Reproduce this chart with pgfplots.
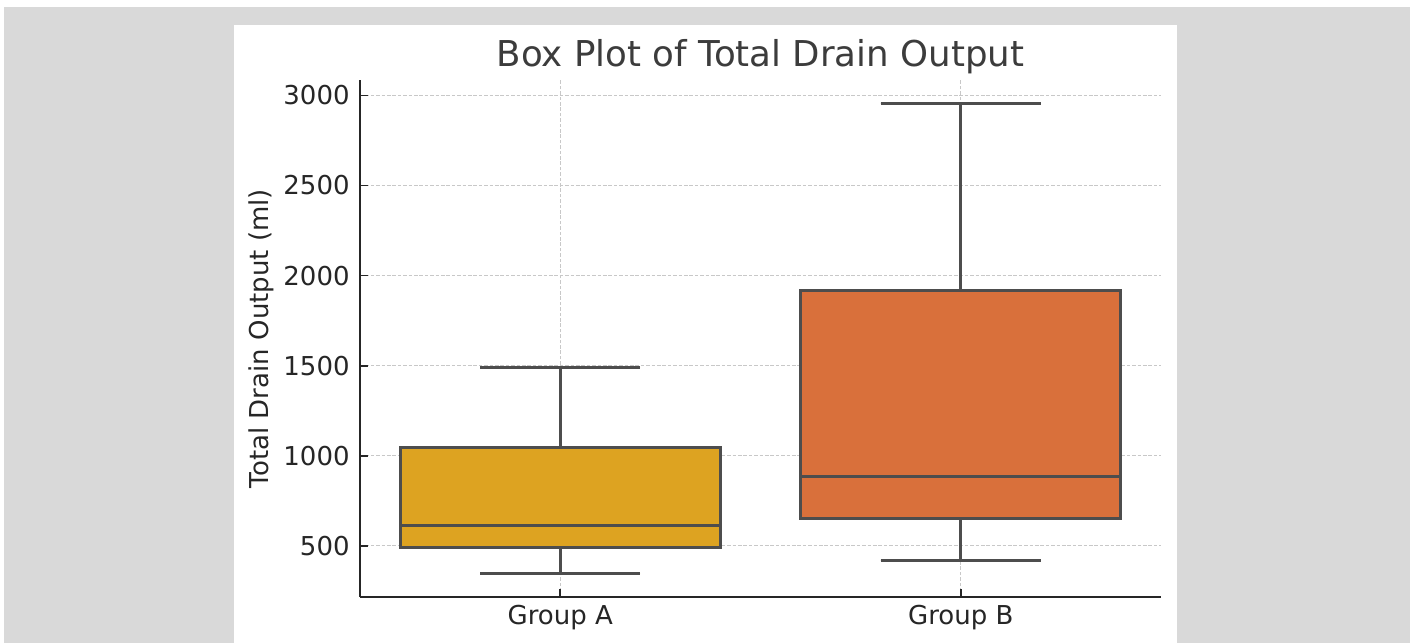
\documentclass[border=0pt]{standalone}
\usepackage{fontspec}
\setmainfont{DejaVu Sans}
\usepackage{pgfplots}
\pgfplotsset{compat=1.18}
\usepgfplotslibrary{statistics}
\definecolor{bgray}{HTML}{D9D9D9}
\definecolor{cA}{HTML}{DDA321}
\definecolor{cB}{HTML}{D9703B}
\definecolor{lineC}{HTML}{4D4D4D}
\definecolor{txt}{HTML}{262626}
\definecolor{gridC}{HTML}{C8C8C8}
\pgfplotsset{
  layers/mylayers/.define layer set={axis background,main,boxfill,axis grid,axis ticks,axis lines,boxlines,axis tick labels,axis descriptions,axis foreground}{},
}
\begin{document}
\begin{tikzpicture}
\fill[white] (-180pt,-23pt) rectangle (525pt,298.5pt);
\fill[bgray] (-178pt,-23pt) rectangle (525pt,295pt);
\fill[white] (-63pt,-23pt) rectangle (408.5pt,286pt);
\begin{axis}[
  set layers=mylayers,
  scale only axis,
  width=400.5pt, height=258.5pt,
  xmin=-0.5, xmax=1.5,
  ymin=217, ymax=3085,
  axis x line*=bottom, axis y line*=left,
  axis line style={color=txt, line width=1pt, -},
  xtick={0,1}, xticklabels={Group A, Group B},
  ytick={500,1000,1500,2000,2500,3000},
  /pgf/number format/assume math mode=true,
  /pgf/number format/1000 sep={},
  tick align=inside,
  major tick length=4pt,
  tick style={color=txt, line width=0.8pt},
  ymajorgrids, xmajorgrids,
  major grid style={color=gridC, line width=0.5pt, dash pattern=on 1.8pt off 0.9pt},
  ticklabel style={font=\fontsize{13}{15.6}\selectfont, text=txt},
  xticklabel style={anchor=base, yshift=-14pt, inner sep=0pt},
  yticklabel style={anchor=east, inner sep=0pt, xshift=-5pt},
  ylabel={Total Drain Output (ml)},
  ylabel style={font=\fontsize{13}{15.6}\selectfont, text=txt, at={(axis description cs:0,0.5)}, anchor=center, yshift=49.5pt},
  title={Box Plot of Total Drain Output},
  title style={font=\fontsize{17.8}{21}\selectfont, text=txt!90, at={(axis description cs:0.5,1)}, anchor=base, yshift=0.5pt},
  boxplot/draw direction=y,
  boxplot/box extend=0.8,
  boxplot/whisker extend=0.4,
]
\addplot[on layer=boxfill, boxplot prepared={draw position=0, lower whisker=350, lower quartile=489, median=611, upper quartile=1045, upper whisker=1492},
  fill=cA, draw=none, mark=none] coordinates {};
\addplot[on layer=boxfill, boxplot prepared={draw position=1, lower whisker=422, lower quartile=655, median=888, upper quartile=1920, upper whisker=2956},
  fill=cB, draw=none, mark=none] coordinates {};
\addplot[on layer=boxlines, boxplot prepared={draw position=0, lower whisker=350, lower quartile=489, median=611, upper quartile=1045, upper whisker=1492},
  draw=lineC, line width=1.5pt, solid, mark=none] coordinates {};
\addplot[on layer=boxlines, boxplot prepared={draw position=1, lower whisker=422, lower quartile=655, median=888, upper quartile=1920, upper whisker=2956},
  draw=lineC, line width=1.5pt, solid, mark=none] coordinates {};
\end{axis}
\end{tikzpicture}
\end{document}
